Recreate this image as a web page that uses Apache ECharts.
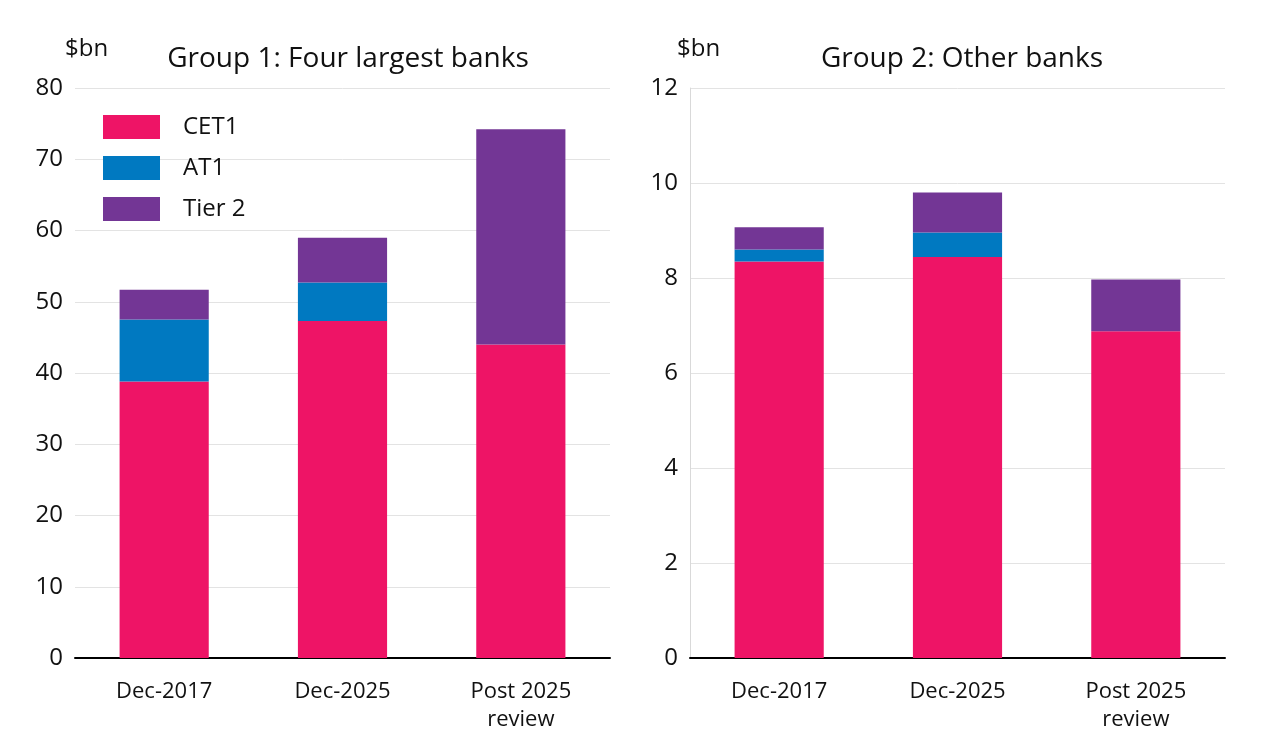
<!DOCTYPE html>
<html><head><meta charset="utf-8">
<script src="https://cdn.jsdelivr.net/npm/echarts@6/dist/echarts.min.js"></script>
<style>html,body{margin:0;padding:0;background:#fff}#c{width:1279px;height:746px}</style>
</head><body><div id="c"></div>
<script>
const categories = ['Dec-2017', 'Dec-2025', 'Post 2025\nreview'];
const seriesNames = ['CET1', 'AT1', 'Tier 2'];
const colors = ['#EE1466', '#0079C1', '#733695'];
// Group 1: Four largest banks ($bn)
const g1CET1 = [38.8, 47.3, 44.0];
const g1AT1 = [8.7, 5.4, 0];
const g1Tier2 = [4.2, 6.3, 30.2];
// Group 2: Other banks ($bn)
const g2CET1 = [8.35, 8.44, 6.88];
const g2AT1 = [0.25, 0.52, 0];
const g2Tier2 = [0.47, 0.84, 1.09];
const titles = ['Group 1: Four largest banks', 'Group 2: Other banks'];
const unitLabel = '$bn';
const g1Ticks = {min: 0, max: 80, interval: 10};
const g2Ticks = {min: 0, max: 12, interval: 2};

const font = '"Open Sans", "Noto Sans", sans-serif';
const chart = echarts.init(document.getElementById('c'));
function xAxis(gi) {
  return {
    type: 'category', gridIndex: gi, data: categories,
    axisLine: {lineStyle: {color: '#000', width: 2}},
    axisTick: {alignWithLabel: true, length: 7, lineStyle: {color: '#000', width: 2}},
    axisLabel: {color: '#111', fontSize: 22, fontFamily: font, lineHeight: 28, margin: 20}
  };
}
function yAxis(gi, t, showLine) {
  return {
    type: 'value', gridIndex: gi, min: t.min, max: t.max, interval: t.interval,
    axisLine: {show: showLine, lineStyle: {color: '#d9d9d9', width: 1}},
    axisTick: {show: false},
    splitLine: {lineStyle: {color: '#e3e3e3', width: 1}},
    axisLabel: {color: '#111', fontSize: 24, fontFamily: font, margin: 12}
  };
}
const data = [[g1CET1, g1AT1, g1Tier2], [g2CET1, g2AT1, g2Tier2]];
const series = [];
for (let gi = 0; gi < 2; gi++) {
  for (let s = 0; s < 3; s++) {
    series.push({
      name: seriesNames[s], type: 'bar', stack: 'g' + gi,
      xAxisIndex: gi, yAxisIndex: gi, barWidth: '50%',
      itemStyle: {color: colors[s]},
      data: data[gi][s]
    });
  }
}
chart.setOption({
  animation: false,
  backgroundColor: '#fff',
  color: colors,
  title: [
    {text: titles[0], left: 343, top: 40, textAlign: 'center', textStyle: {fontSize: 28, fontWeight: 'normal', color: '#111', fontFamily: font}},
    {text: titles[1], left: 957, top: 40, textAlign: 'center', textStyle: {fontSize: 28, fontWeight: 'normal', color: '#111', fontFamily: font}},
    {text: unitLabel, left: 60, top: 32, textStyle: {fontSize: 24, fontWeight: 'normal', color: '#111', fontFamily: font}},
    {text: unitLabel, left: 672, top: 32, textStyle: {fontSize: 24, fontWeight: 'normal', color: '#111', fontFamily: font}}
  ],
  legend: {
    data: seriesNames, orient: 'vertical', left: 98, top: 110,
    icon: 'rect', itemWidth: 57, itemHeight: 24, itemGap: 17,
    textStyle: {fontSize: 24, color: '#111', fontFamily: font, padding: [0, 0, 0, 18]}
  },
  grid: [
    {left: 75, right: 1279 - 610, top: 88, bottom: 746 - 658, containLabel: false},
    {left: 690, right: 1279 - 1225, top: 88, bottom: 746 - 658, containLabel: false}
  ],
  xAxis: [xAxis(0), xAxis(1)],
  yAxis: [yAxis(0, g1Ticks, false), yAxis(1, g2Ticks, true)],
  series: series
});
</script></body></html>
